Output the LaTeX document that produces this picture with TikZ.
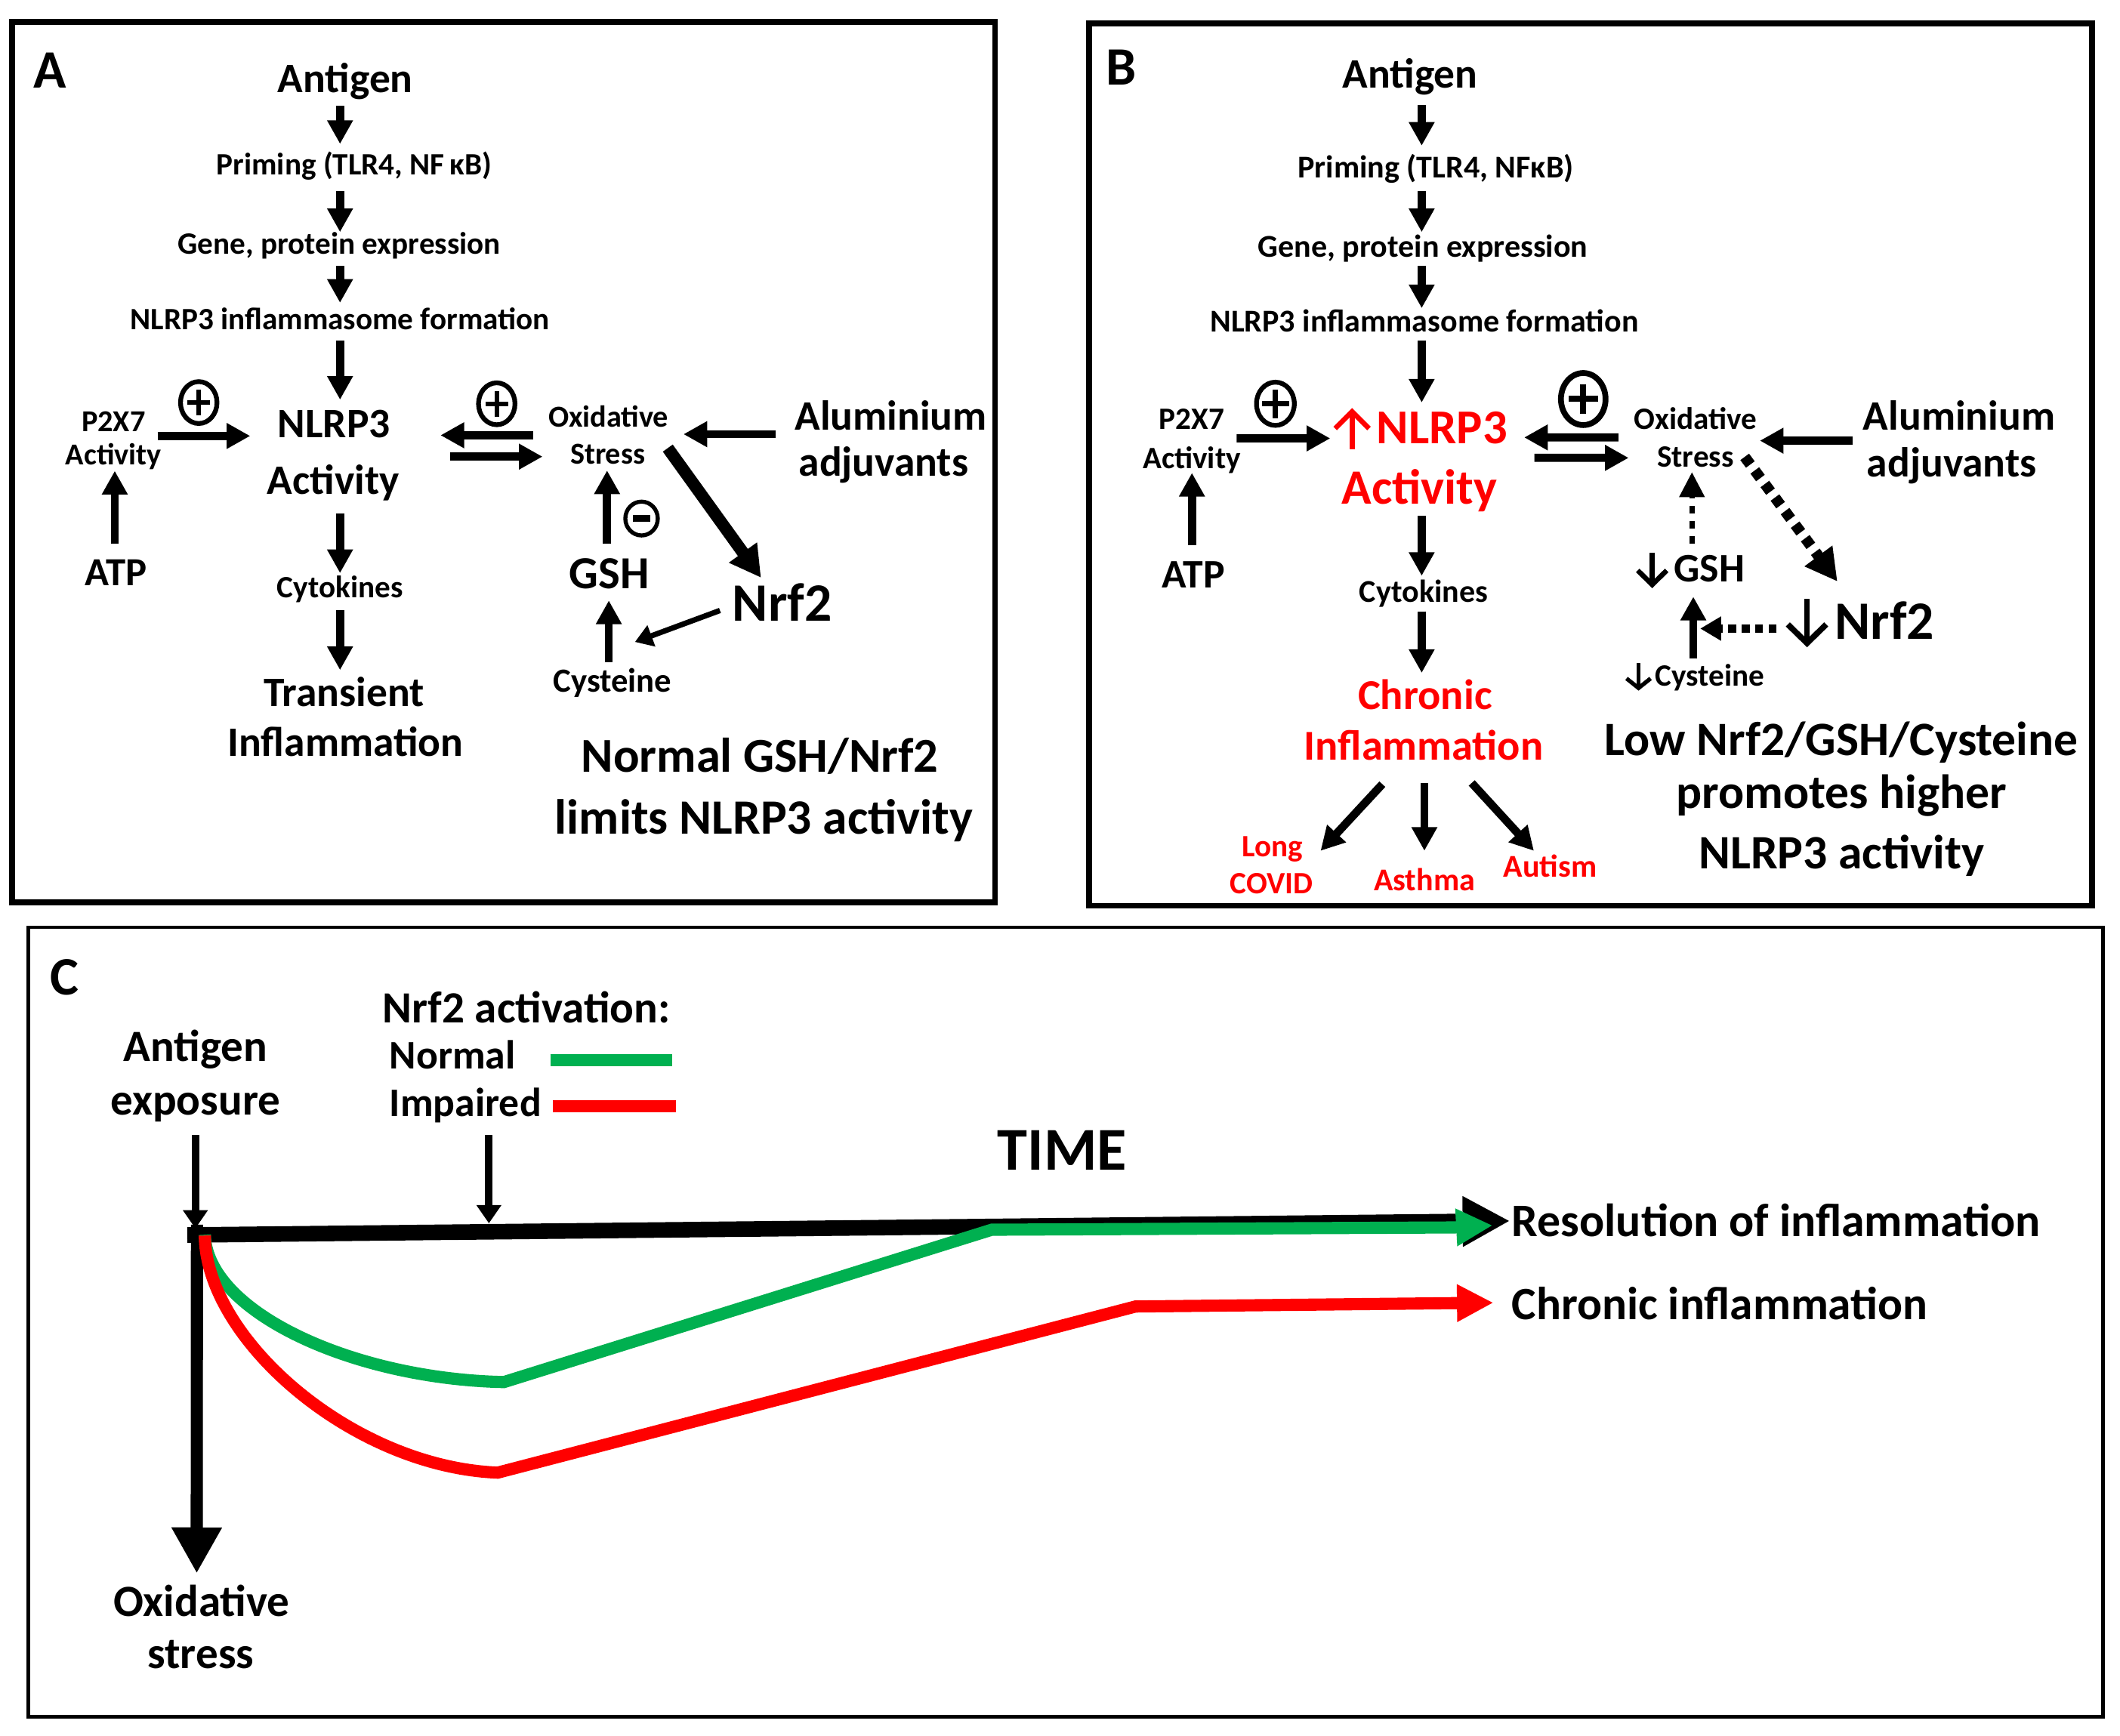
\documentclass[tikz,border=0pt]{standalone}
\usepackage{fontspec}
\setmainfont{Carlito}
\usetikzlibrary{arrows.meta,shapes.geometric}
\definecolor{cgreen}{RGB}{0,176,80}
\definecolor{cred}{RGB}{255,0,0}
\begin{document}
\begin{tikzpicture}[x=1pt,y=-1pt,
  fz/.style={inner sep=0pt, anchor=base, font={\bfseries\fontsize{#1}{#1}\selectfont}},
  fzw/.style={fz=#1, anchor=base west},
  arr/.style={line width=6pt, -{Triangle[length=17.5pt,width=18pt]}},
  bigarr/.style={line width=9pt, -{Triangle[length=23pt,width=24pt]}},
  smallarr/.style={line width=4pt, -{Triangle[length=13pt,width=16pt]}},
  dotarr/.style={line width=8pt, dash pattern=on 7pt off 5.5pt, -{Triangle[length=23.6pt,width=24pt]}},
  dotthin/.style={line width=4pt, dash pattern=on 5.6pt off 5.6pt, -{Triangle[length=18.6pt,width=18pt]}},
  dotmid/.style={line width=6.5pt, dash pattern=on 6pt off 4pt, -{Triangle[length=15.5pt,width=17pt]}},
  sign/.style={draw, ellipse, line width=3.5pt, inner sep=0pt, minimum width=27pt, minimum height=31pt},
  panelbox/.style={line width=4.3pt},
  thinarr/.style={line width=5.5pt, -{Triangle[length=13.6pt,width=17.7pt]}},
  timearr/.style={line width=11.5pt, -{Triangle[length=35pt,width=35pt]}},
  vertarr/.style={line width=9pt, -{Triangle[length=34pt,width=35pt]}},
  curvearr/.style={line width=9pt, -{Triangle[length=27pt,width=26pt]}},
  glypharr/.style={line width=#1, line cap=butt, line join=miter},
]
\useasboundingbox (0,0) rectangle (1568,1284);

%%%%%%%%%%%%%%%% Panel A
\draw[panelbox] (9,16.2) rectangle (736,667.5);
\node[fz=40] (labA) at (37,65) {A};
\node[fz=31] (antA) at (255.5,68.2) {Antigen};
\node[fz=23] (primA) at (262,129.5) {Priming (TLR4, NF\,κB)};
\node[fz=23] (geneA) at (251,188) {Gene, protein expression};
\node[fz=23] (formA) at (251.5,244) {NLRP3 inflammasome formation};
\node[fz=31] (nlrA) at (247,323.6) {NLRP3};
\node[fz=31] (actA) at (246.5,365.8) {Activity};
\node[fz=22.5] (p2xA) at (84,319.3) {P2X7};
\node[fz=22.5] (p2aA) at (84,344) {Activity};
\node[fz=29.5] (atpA) at (86,433) {ATP};
\node[fz=22.5] (oxA) at (450,315.8) {Oxidative};
\node[fz=22.5] (stA) at (449.5,343.2) {Stress};
\node[fz=31] (alA) at (659,318) {Aluminium};
\node[fz=31] (adjA) at (653.5,352) {adjuvants};
\node[fz=34] (gshA) at (450.5,435.3) {GSH};
\node[fz=40] (nrfA) at (578.5,459.6) {Nrf2};
\node[fz=25] (cysA) at (453,511.8) {Cysteine};
\node[fz=23] (cytA) at (251.5,442) {Cytokines};
\node[fz=31] (trA) at (254.5,522.6) {Transient};
\node[fz=31] (infA) at (255.5,559.6) {Inflammation};
\node[fz=36] (nrmA) at (562,571.3) {Normal GSH/Nrf2};
\node[fz=36.5] (limA) at (565,617) {limits NLRP3 activity};

\node[sign] (pA1) at (147,297.8) {};
\draw[line width=3.5pt] ([xshift=-8.5pt]pA1.center) -- ([xshift=8.5pt]pA1.center);
\draw[line width=3.5pt] ([yshift=-9.5pt]pA1.center) -- ([yshift=9.5pt]pA1.center);
\node[sign] (pA2) at (367.4,298.7) {};
\draw[line width=3.5pt] ([xshift=-8.5pt]pA2.center) -- ([xshift=8.5pt]pA2.center);
\draw[line width=3.5pt] ([yshift=-9.5pt]pA2.center) -- ([yshift=9.5pt]pA2.center);
\node[sign, line width=3pt, minimum width=24pt, minimum height=25pt] (mA) at (474.5,383.6) {};
\draw[line width=5pt] ([xshift=-6.4pt]mA.center) -- ([xshift=6.4pt]mA.center);

\draw[arr] ([shift={(-4,10.1)}]antA.base) -- ([shift={(-10.5,-23)}]primA.base);
\draw[arr] ([shift={(-10.5,11.8)}]primA.base) -- ([shift={(0.5,-16.3)}]geneA.base);
\draw[arr] ([shift={(0.5,8.5)}]geneA.base) -- ([shift={(0,-20)}]formA.base);
\draw[arr] ([shift={(0,8)}]formA.base) -- ([shift={(4.5,-27.9)}]nlrA.base);
\draw[arr] ([shift={(5,13.8)}]actA.base) -- ([shift={(0,-18)}]cytA.base);
\draw[arr] ([shift={(0,9.3)}]cytA.base) -- ([shift={(-3,-26.9)}]trA.base);
\draw[arr] ([shift={(32.5,3.2)}]p2xA.base) -- ([shift={(-61.9,-1.1)}]nlrA.base);
\draw[arr] ([shift={(-1.1,-30.7)}]atpA.base) -- ([shift={(0.9,4.3)}]p2aA.base);
\draw[arr] ([shift={(-55.7,6.2)}]oxA.base) -- ([shift={(78.8,-1.6)}]nlrA.base);
\draw[arr] ([shift={(85.8,14.2)}]nlrA.base) -- ([shift={(-48.2,-5.4)}]stA.base);
\draw[arr] ([shift={(-85.2,3.2)}]alA.base) -- ([shift={(55.5,5.4)}]oxA.base);
\draw[bigarr] ([shift={(44.4,-11.7)}]stA.base) -- ([shift={(-15.6,-32.2)}]nrfA.base);
\draw[arr] ([shift={(-1.5,-33.3)}]gshA.base) -- ([shift={(-0.5,4.8)}]stA.base);
\draw[smallarr] ([shift={(-46,-8)}]nrfA.base) -- ([shift={(16.6,-36.9)}]cysA.base);
\draw[arr] ([shift={(-2.7,-22)}]cysA.base) -- ([shift={(-0.2,8.9)}]gshA.base);

%%%%%%%%%%%%%%%% Panel B
\draw[panelbox] (805.3,17.4) rectangle (1547.4,670);
\node[fz=40] (labB) at (829,63) {B};
\node[fz=31] (antB) at (1043,65.2) {Antigen};
\node[fz=23.5] (primB) at (1062,131.7) {Priming (TLR4, NFκB)};
\node[fz=23.5] (geneB) at (1052.5,190) {Gene, protein expression};
\node[fz=23.5] (formB) at (1053.5,245.6) {NLRP3 inflammasome formation};
\node[fzw=36, text=cred] (nlrB) at (1018,328.3) {NLRP3};
\node[fz=36.5, text=cred] (actB) at (1050,372.6) {Activity};
\node[fz=23] (p2xB) at (881.5,317.4) {P2X7};
\node[fz=23] (p2aB) at (881.5,346.5) {Activity};
\node[fz=30] (atpB) at (882.5,434.8) {ATP};
\node[fz=23] (oxB) at (1254,317.4) {Oxidative};
\node[fz=23] (stB) at (1254,345.6) {Stress};
\node[fz=31] (alB) at (1449,318.3) {Aluminium};
\node[fz=31] (adjB) at (1443.5,353) {adjuvants};
\node[fzw=30] (gshB) at (1238,430.4) {GSH};
\node[fzw=40] (nrfB) at (1357,472.6) {Nrf2};
\node[fzw=23] (cysB) at (1224,507.4) {Cysteine};
\node[fz=23.5] (cytB) at (1053,445.6) {Cytokines};
\node[fz=31.5, text=cred] (chrB) at (1054,524.8) {Chronic};
\node[fz=31.5, text=cred] (infB) at (1053,562.2) {Inflammation};
\node[fz=23, text=cred] (longB) at (941,634) {Long};
\node[fz=23, text=cred] (covB) at (940.5,661) {COVID};
\node[fz=23.5, text=cred] (asthB) at (1053.5,658.7) {Asthma};
\node[fz=23.5, text=cred] (autB) at (1146.5,648.7) {Autism};
\node[fz=35.5] (lowB) at (1362,558.7) {Low Nrf2/GSH/Cysteine};
\node[fz=35.5] (proB) at (1362,597.8) {promotes higher};
\node[fz=35.5] (nlaB) at (1362,642.6) {NLRP3 activity};

% up / down marks in front of the words
\draw[glypharr=3.7pt, cred] ([shift={(-30.5,-11.3)}]nlrB.base west) -- ([shift={(-18,-23.8)}]nlrB.base west)
   -- ([shift={(-5.5,-11.3)}]nlrB.base west);
\draw[glypharr=3.7pt, cred] ([shift={(-18,-23.8)}]nlrB.base west) -- ([shift={(-18,4.1)}]nlrB.base west);
\draw[glypharr=3.7pt] ([shift={(-26.7,-8.4)}]gshB.base west) -- ([shift={(-16,2.1)}]gshB.base west)
   -- ([shift={(-5.3,-8.4)}]gshB.base west);
\draw[glypharr=3.7pt] ([shift={(-16,-21.6)}]gshB.base west) -- ([shift={(-16,2.1)}]gshB.base west);
\draw[glypharr=4.3pt] ([shift={(-34.7,-10.7)}]nrfB.base west) -- ([shift={(-20.5,3.2)}]nrfB.base west)
   -- ([shift={(-6.3,-10.7)}]nrfB.base west);
\draw[glypharr=4.3pt] ([shift={(-20.5,-29.4)}]nrfB.base west) -- ([shift={(-20.5,3.2)}]nrfB.base west);
\draw[glypharr=3pt] ([shift={(-21,-5.5)}]cysB.base west) -- ([shift={(-12.1,1.6)}]cysB.base west)
   -- ([shift={(-3.2,-5.5)}]cysB.base west);
\draw[glypharr=3pt] ([shift={(-12.1,-16.7)}]cysB.base west) -- ([shift={(-12.1,1.6)}]cysB.base west);

\node[sign, minimum width=28pt, minimum height=32pt] (pB1) at (943.3,298.7) {};
\draw[line width=3.8pt] ([xshift=-10pt]pB1.center) -- ([xshift=10pt]pB1.center);
\draw[line width=3.8pt] ([yshift=-10.5pt]pB1.center) -- ([yshift=10.5pt]pB1.center);
\node[sign, line width=4.3pt, minimum width=33pt, minimum height=38.5pt] (pB2) at (1171,295.2) {};
\draw[line width=4.5pt] ([xshift=-11pt]pB2.center) -- ([xshift=11pt]pB2.center);
\draw[line width=4.5pt] ([yshift=-11pt]pB2.center) -- ([yshift=11pt]pB2.center);

\draw[arr] ([shift={(8.5,12.2)}]antB.base) -- ([shift={(-10.5,-23.9)}]primB.base);
\draw[arr] ([shift={(-10.5,9.6)}]primB.base) -- ([shift={(-1,-18.3)}]geneB.base);
\draw[arr] ([shift={(-1,6.5)}]geneB.base) -- ([shift={(-2,-17.6)}]formB.base);
\draw[arr] ([shift={(-2,6.6)}]formB.base) -- ([shift={(33.5,-30.5)}]nlrB.base west);
\draw[arr] ([shift={(1.5,9.1)}]actB.base) -- ([shift={(-1.5,-19.6)}]cytB.base);
\draw[arr] ([shift={(-1.5,6.6)}]cytB.base) -- ([shift={(-2.5,-27)}]chrB.base);
\draw[arr] ([shift={(33.1,6.9)}]p2xB.base) -- ([shift={(-34.1,-4)}]nlrB.base west);
\draw[arr] ([shift={(-0.9,-31.6)}]atpB.base) -- ([shift={(0.1,3.3)}]p2aB.base);
\draw[arr] ([shift={(-57,6.2)}]oxB.base) -- ([shift={(109.3,-4.7)}]nlrB.base west);
\draw[arr] ([shift={(116.8,10.4)}]nlrB.base west) -- ([shift={(-49.4,-6.9)}]stB.base);
\draw[arr] ([shift={(-78.8,7.7)}]alB.base) -- ([shift={(47.6,8.6)}]oxB.base);
\draw[dotarr] ([shift={(36.4,-7.6)}]stB.base) -- ([shift={(2,-42.4)}]nrfB.base west);
\draw[dotthin] ([shift={(13.4,-28.1)}]gshB.base west) -- ([shift={(-2.6,3.6)}]stB.base);
\draw[dotmid] ([shift={(-43,-7.6)}]nrfB.base west) -- ([shift={(33.5,-42.4)}]cysB.base west);
\draw[arr] ([shift={(28.4,-20.4)}]cysB.base west) -- ([shift={(14.4,11)}]gshB.base west);
\draw[arr] ([shift={(-30.6,17.9)}]infB.base) -- ([shift={(35.7,-4.6)}]longB.base);
\draw[arr] ([shift={(0.5,17)}]infB.base) -- ([shift={(0,-29.3)}]asthB.base);
\draw[arr] ([shift={(35.5,17)}]infB.base) -- ([shift={(-12,-19.3)}]autB.base);

%%%%%%%%%%%%%%%% Panel C
\draw[line width=2.5pt] (21,685.9) rectangle (1555.5,1270);
\node[fz=40] (labC) at (48,735.7) {C};
\node[fzw=33] (nact) at (283,756.8) {Nrf2 activation:};
\node[fzw=30] (norm) at (288,790.7) {Normal};
\node[fzw=30] (imp) at (288,826.1) {Impaired};
\node[fz=33] (antC) at (144.5,784.9) {Antigen};
\node[fz=33] (expC) at (144.5,825) {exposure};
\node[fz=45] (timeC) at (785.5,865.8) {TIME};
\node[fzw=34.5] (res) at (1118,914.6) {Resolution of inflammation};
\node[fzw=34.3] (chrC) at (1118,976.2) {Chronic inflammation};
\node[fz=33] (oxC) at (149,1195.6) {Oxidative};
\node[fz=33] (stC) at (148.5,1234.1) {stress};

\draw[cgreen, line width=9pt] ([shift={(119,-6.4)}]norm.base west) -- ++(90,0);
\draw[cred, line width=9pt] ([shift={(121,-7.7)}]imp.base west) -- ++(91,0);

\coordinate (orig) at (144.5,908.8);
\coordinate (t2) at (361.6,905);
\draw[timearr] (138.5,913.6) -- ([shift={(-1.2,-11.4)}]res.base west);
\draw[vertarr] (145.7,906) -- ([shift={(-3.5,-31.7)}]oxC.base);
\draw[cgreen, curvearr] (151.5,913.4) .. controls (153,970) and (260,1020) .. (372.7,1022.4)
   -- (733.5,909.7) -- (1076,908) -- ([shift={(-14,-8.1)}]res.base west);
\draw[cred, curvearr] (151.5,914) .. controls (152,990) and (260,1085) .. (368.1,1089.4)
   -- (839.8,966.5) -- ([shift={(-13.4,-12.5)}]chrC.base west);
\draw[thinarr] ([shift={(0,14.3)}]expC.base) -- (orig);
\draw[thinarr] ([shift={(73.6,13.2)}]imp.base west) -- (t2);
\end{tikzpicture}
\end{document}
